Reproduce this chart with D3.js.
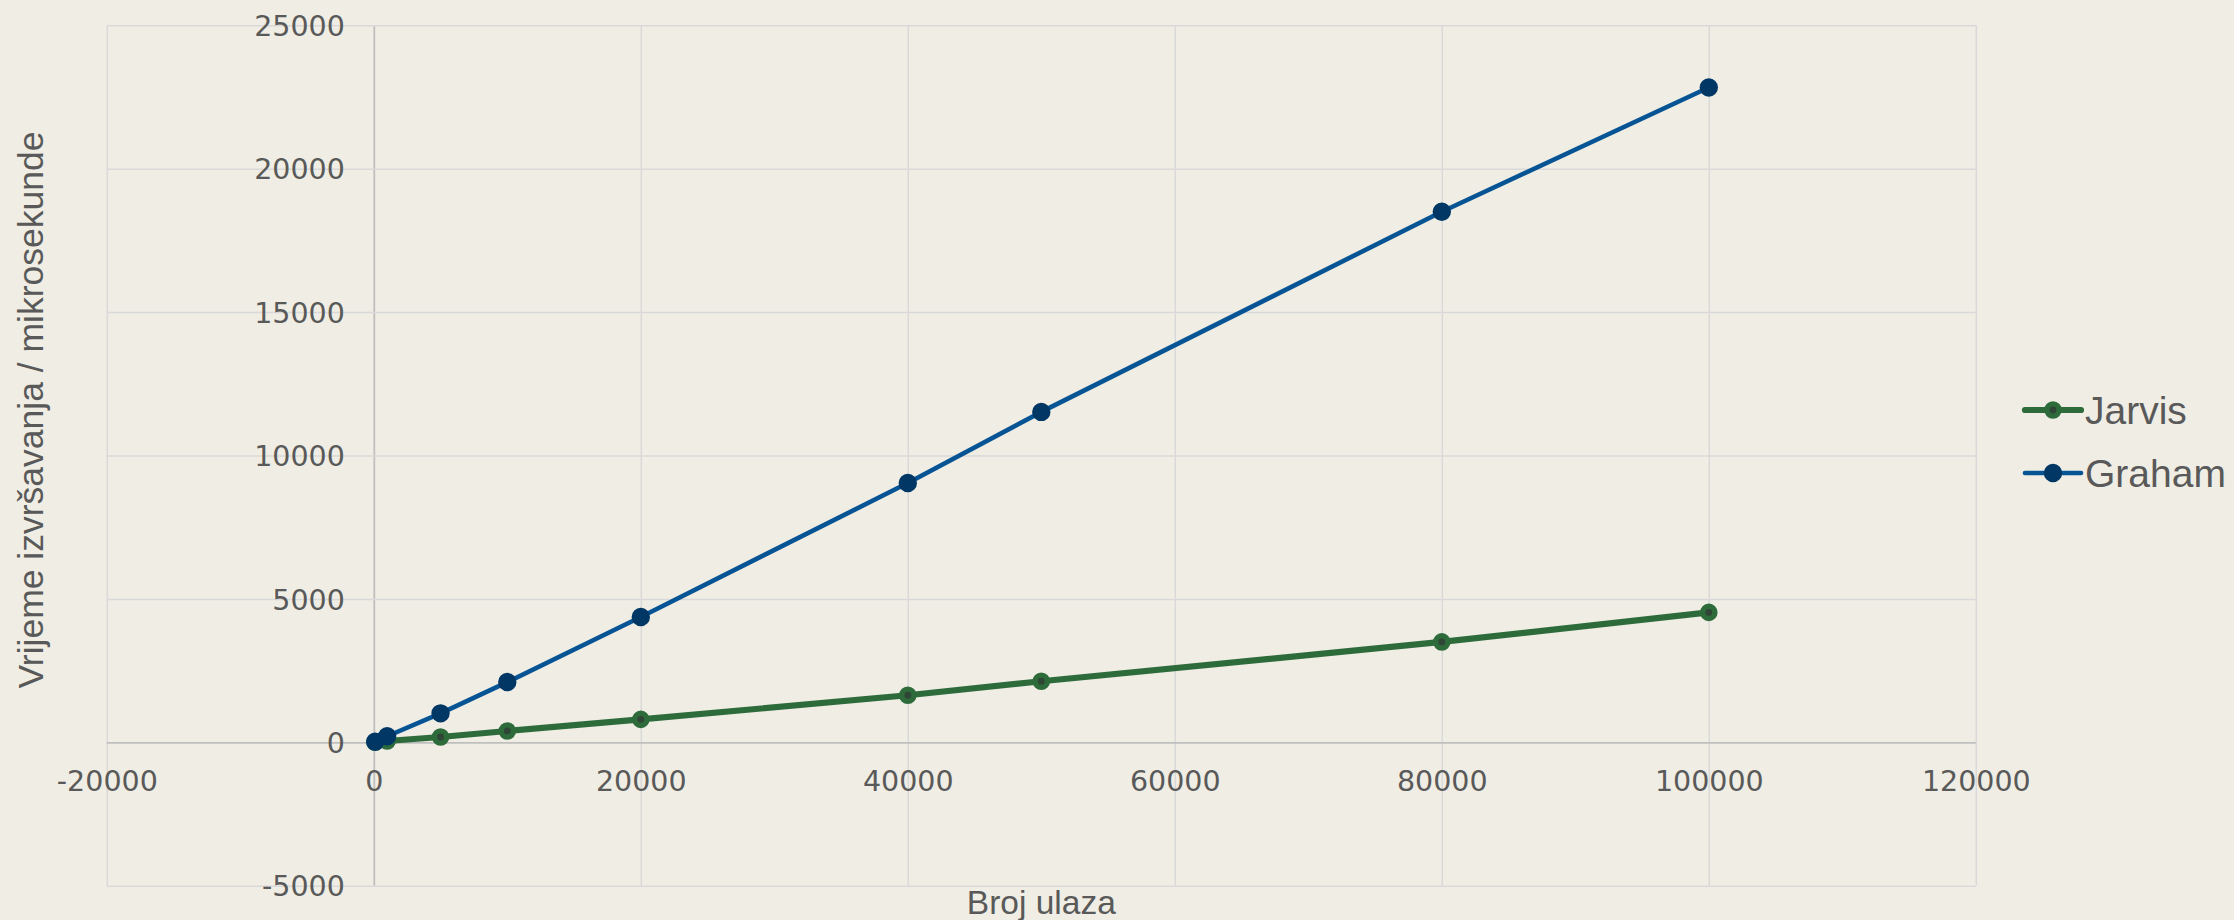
<!DOCTYPE html>
<html>
<head>
<meta charset="utf-8">
<script src="https://cdn.jsdelivr.net/npm/d3@7"></script>
<style>
  html, body { margin: 0; padding: 0; background: #EFEDE4; }
  svg { display: block; }
</style>
</head>
<body>
<svg id="chart" width="2234" height="920"></svg>
<script>
// ---- data ----
const inputSizes = [100, 1000, 5000, 10000, 20000, 40000, 50000, 80000, 100000];
const jarvisTimes = [5, 45, 185, 395, 800, 1640, 2130, 3500, 4530];
const grahamTimes = [20, 210, 1010, 2100, 4370, 9040, 11520, 18500, 22830];
const seriesNames = ["Jarvis", "Graham"];
const xTickValues = [-20000, 0, 20000, 40000, 60000, 80000, 100000, 120000];
const yTickValues = [-5000, 0, 5000, 10000, 15000, 20000, 25000];
const xTitle = "Broj ulaza";
const yTitle = "Vrijeme izvršavanja / mikrosekunde";

// ---- layout ----
const W = 2234, H = 920;
const plotLeft = 106.8, plotRight = 1975.8, plotTop = 25.3, plotBottom = 885.7;
const textColor = "#595959";
const gridColor = "#D9D9D9";
const axisColor = "#BFBFBF";
const styles = {
  Jarvis: { line: "#2E6B3B", lineWidth: 6.2, markerFill: "#2F4636", markerStroke: "#2E6B3B", r: 6.1, markerStrokeWidth: 5.4 },
  Graham: { line: "#075495", lineWidth: 4.6, markerFill: "#003764", markerStroke: "#003764", r: 8.2, markerStrokeWidth: 2 }
};

const svg = d3.select("#chart");
svg.append("rect").attr("width", W).attr("height", H).attr("fill", "#EFEDE4");

const x = d3.scaleLinear().domain([-20000, 120000]).range([plotLeft, plotRight]);
const y = d3.scaleLinear().domain([-5000, 25000]).range([plotBottom, plotTop]);

// gridlines via axes
const xGrid = svg.append("g").attr("transform", `translate(0,${plotBottom})`)
  .call(d3.axisBottom(x).tickValues(xTickValues).tickSize(-(plotBottom - plotTop)).tickFormat(""));
xGrid.select(".domain").remove();
xGrid.selectAll(".tick line")
  .attr("stroke", d => d === 0 ? axisColor : gridColor)
  .attr("stroke-width", d => d === 0 ? 1.8 : 1.5);

const yGrid = svg.append("g").attr("transform", `translate(${plotLeft},0)`)
  .call(d3.axisLeft(y).tickValues(yTickValues).tickSize(-(plotRight - plotLeft)).tickFormat(""));
yGrid.select(".domain").remove();
yGrid.selectAll(".tick line")
  .attr("stroke", d => d === 0 ? axisColor : gridColor)
  .attr("stroke-width", d => d === 0 ? 1.8 : 1.5);
yGrid.selectAll(".tick").filter(d => d === 0).raise();

// tick labels
const xLabels = svg.append("g").attr("transform", `translate(0,${y(0)})`)
  .call(d3.axisBottom(x).tickValues(xTickValues).tickSize(0).tickFormat(d => String(d)));
xLabels.select(".domain").remove();
xLabels.attr("font-family", "'DejaVu Sans', sans-serif").attr("font-size", 28.5);
xLabels.selectAll(".tick text")
  .attr("fill", textColor).attr("y", 791 - y(0)).attr("dy", null);

const yLabels = svg.append("g").attr("transform", `translate(${x(0) - 29},0)`)
  .call(d3.axisLeft(y).tickValues(yTickValues).tickSize(0).tickPadding(0).tickFormat(d => String(d)));
yLabels.select(".domain").remove();
yLabels.attr("font-family", "'DejaVu Sans', sans-serif").attr("font-size", 28.5);
yLabels.selectAll(".tick text")
  .attr("fill", textColor).attr("x", 0).attr("dy", "0.36em").attr("text-anchor", "end");

// series
const seriesData = [
  { name: "Jarvis", values: jarvisTimes },
  { name: "Graham", values: grahamTimes }
];
const line = d3.line().x(d => x(d[0])).y(d => y(d[1]));
seriesData.forEach(s => {
  const st = styles[s.name];
  const pts = inputSizes.map((v, i) => [v, s.values[i]]);
  const g = svg.append("g");
  g.append("path").datum(pts)
    .attr("d", line).attr("fill", "none")
    .attr("stroke", st.line).attr("stroke-width", st.lineWidth)
    .attr("stroke-linejoin", "round").attr("stroke-linecap", "round");
  g.selectAll("circle").data(pts).join("circle")
    .attr("cx", d => x(d[0])).attr("cy", d => y(d[1])).attr("r", st.r)
    .attr("fill", st.markerFill).attr("stroke", st.markerStroke).attr("stroke-width", st.markerStrokeWidth);
});

// axis titles
svg.append("text")
  .attr("x", (plotLeft + plotRight) / 2).attr("y", 914)
  .attr("text-anchor", "middle")
  .attr("font-family", "'Liberation Sans', Arial, sans-serif").attr("font-size", 33.5)
  .attr("fill", textColor).text(xTitle);

svg.append("text")
  .attr("transform", "translate(43,410) rotate(-90)")
  .attr("text-anchor", "middle")
  .attr("font-family", "'Liberation Sans', Arial, sans-serif").attr("font-size", 35.5)
  .attr("fill", textColor).text(yTitle);

// legend
const legendY = { Jarvis: 410, Graham: 473 };
const legend = svg.append("g");
seriesNames.forEach(name => {
  const st = styles[name];
  const ly = legendY[name];
  const lg = legend.append("g");
  lg.append("line").attr("x1", 2025).attr("x2", 2081).attr("y1", ly).attr("y2", ly)
    .attr("stroke", st.line).attr("stroke-width", st.lineWidth).attr("stroke-linecap", "round");
  lg.append("circle").attr("cx", 2053).attr("cy", ly).attr("r", st.r)
    .attr("fill", st.markerFill).attr("stroke", st.markerStroke).attr("stroke-width", st.markerStrokeWidth);
  lg.append("text").attr("x", 2085).attr("y", ly + 14)
    .attr("font-family", "'Liberation Sans', Arial, sans-serif").attr("font-size", 39)
    .attr("fill", textColor).text(name);
});
</script>
</body>
</html>
